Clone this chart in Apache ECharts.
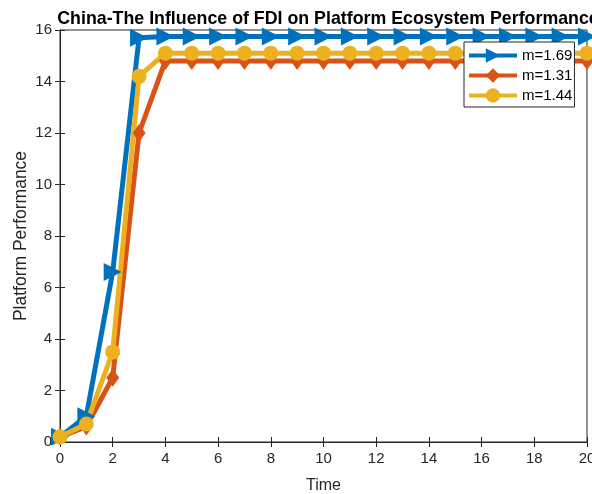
<!DOCTYPE html>
<html>
<head>
<meta charset="utf-8">
<script src="https://cdn.jsdelivr.net/npm/echarts@6/dist/echarts.min.js"></script>
<style>
  html, body { margin: 0; padding: 0; background: #fff; }
  #chart { width: 592px; height: 494px; }
</style>
</head>
<body>
<div id="chart"></div>
<script>
// Time steps and platform performance for three FDI levels
const timeSteps = [0,1,2,3,4,5,6,7,8,9,10,11,12,13,14,15,16,17,18,19,20];
const seriesNames = ['m=1.69', 'm=1.31', 'm=1.44'];
const perfHigh = [0.2,1.0,6.6,15.7,15.75,15.75,15.75,15.75,15.75,15.75,15.75,15.75,15.75,15.75,15.75,15.75,15.75,15.75,15.75,15.75,15.75];
const perfLow  = [0.2,0.6,2.5,12.0,14.8,14.8,14.8,14.8,14.8,14.8,14.8,14.8,14.8,14.8,14.8,14.8,14.8,14.8,14.8,14.8,14.8];
const perfMid  = [0.2,0.7,3.5,14.2,15.1,15.1,15.1,15.1,15.1,15.1,15.1,15.1,15.1,15.1,15.1,15.1,15.1,15.1,15.1,15.1,15.1];
const xTicks = [0,2,4,6,8,10,12,14,16,18,20];
const yTicks = [0,2,4,6,8,10,12,14,16];

const colors = ['#0072BD', '#D95319', '#EDB120'];
const font = 'Liberation Sans, Arial, sans-serif';

const chart = echarts.init(document.getElementById('chart'), null, { renderer: 'canvas' });

function pairs(vals) { return timeSteps.map((t, i) => [t, vals[i]]); }

const axisLine = { show: true, lineStyle: { color: '#262626', width: 1 } };
const tick = { show: true, inside: true, length: 5, lineStyle: { color: '#262626' } };

chart.setOption({
  animation: false,
  title: {
    text: 'China-The Influence of FDI on Platform Ecosystem Performance',
    left: 323, top: 5, textAlign: 'center',
    textStyle: { fontFamily: font, fontSize: 17.8, fontWeight: 'bold', color: '#000' }
  },
  grid: { left: 60, right: 5, top: 30, bottom: 52, show: true, borderColor: '#262626', borderWidth: 1,
    containLabel: false, outerBoundsMode: 'none' },
  legend: {
    data: seriesNames,
    orient: 'vertical',
    left: 464, top: 42,
    itemWidth: 48, itemHeight: 18, itemGap: 5,
    padding: [6, 2, 4, 3],
    backgroundColor: '#fff', borderColor: '#262626', borderWidth: 1,
    lineStyle: { width: 4 },
    textStyle: { fontFamily: font, fontSize: 15, color: '#000' }
  },
  xAxis: [{
    type: 'value', min: 0, max: 20, interval: 2,
    name: 'Time', nameLocation: 'middle', nameGap: 36,
    nameTextStyle: { fontFamily: font, fontSize: 16, color: '#262626' },
    axisLine, axisTick: tick,
    axisLabel: { fontFamily: font, fontSize: 15, color: '#262626', margin: 9,
      formatter: v => xTicks.includes(v) ? String(v) : '' },
    splitLine: { show: false }
  }, {
    type: 'value', min: 0, max: 20, interval: 2, position: 'top',
    axisLine, axisTick: tick, axisLabel: { show: false }, splitLine: { show: false }
  }],
  yAxis: [{
    type: 'value', min: 0, max: 16, interval: 2,
    name: 'Platform Performance', nameLocation: 'middle', nameGap: 30, nameMoveOverlap: false,
    nameTextStyle: { fontFamily: font, fontSize: 17.5, color: '#262626' },
    axisLine, axisTick: tick,
    axisLabel: { fontFamily: font, fontSize: 15, color: '#262626', margin: 8,
      formatter: v => yTicks.includes(v) ? String(v) : '' },
    splitLine: { show: false }
  }, {
    type: 'value', min: 0, max: 16, interval: 2, position: 'right',
    axisLine, axisTick: tick, axisLabel: { show: false }, splitLine: { show: false }
  }],
  series: [{
    name: seriesNames[0], type: 'line', data: pairs(perfHigh),
    color: colors[0], lineStyle: { width: 5 },
    symbol: 'triangle', symbolRotate: -90, symbolSize: 18,
    itemStyle: { color: colors[0] }
  }, {
    name: seriesNames[1], type: 'line', data: pairs(perfLow),
    color: colors[1], lineStyle: { width: 5 },
    symbol: 'diamond', symbolSize: [13, 18],
    itemStyle: { color: colors[1] }
  }, {
    name: seriesNames[2], type: 'line', data: pairs(perfMid),
    color: colors[2], lineStyle: { width: 5 },
    symbol: 'circle', symbolSize: 15,
    itemStyle: { color: colors[2] }
  }]
});
</script>
</body>
</html>
